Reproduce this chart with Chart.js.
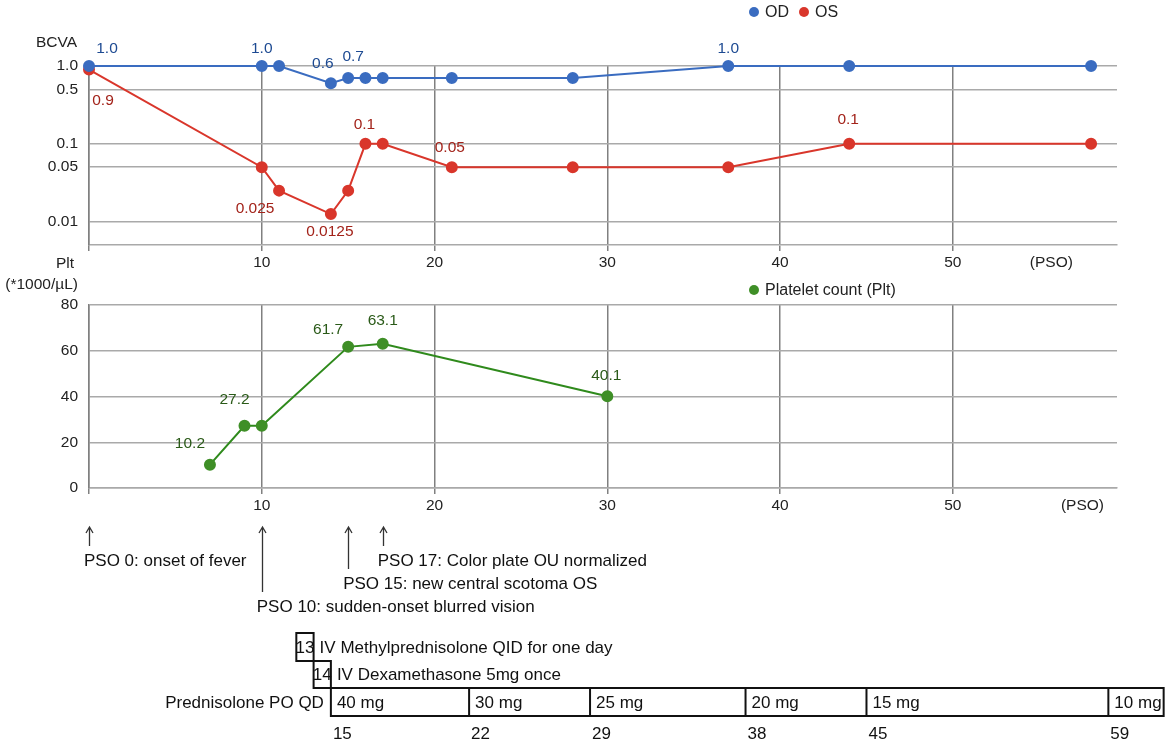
<!DOCTYPE html>
<html>
<head>
<meta charset="utf-8">
<script src="https://cdn.jsdelivr.net/npm/chart.js@4"></script>
<style>
  body { margin: 0; background: #fff; }
  #wrap { position: relative; width: 1170px; height: 745px; }
  #bcvaChart { position: absolute; left: 0; top: 0; }
  #pltChart { position: absolute; left: 0; top: 250px; }
</style>
</head>
<body>
<div id="wrap">
  <canvas id="bcvaChart" width="1170" height="280"></canvas>
  <canvas id="pltChart" width="1170" height="495"></canvas>
</div>
<script>
// BCVA (log scale), days post symptom onset
const bcvaDays = [0, 10, 11, 14, 15, 16, 17, 21, 28, 37, 44, 58];
const odValues = [1.0, 1.0, 1.0, 0.6, 0.7, 0.7, 0.7, 0.7, 0.7, 1.0, 1.0, 1.0];
const osValues = [0.9, 0.05, 0.025, 0.0125, 0.025, 0.1, 0.1, 0.05, 0.05, 0.05, 0.1, 0.1];
const odLabels = ['1.0', '1.0', null, '0.6', '0.7', null, null, null, null, '1.0', null, null];
const osLabels = ['0.9', null, '0.025', '0.0125', null, '0.1', null, '0.05', null, null, '0.1', null];

// platelet count (*1000/uL)
const pltDays = [7, 9, 10, 15, 17, 30];
const pltValues = [10.2, 27.2, 27.2, 61.7, 63.1, 40.1];
const pltLabels = ['10.2', '27.2', null, '61.7', '63.1', '40.1'];

// tick labels
const bcvaTicks = [1, 0.5, 0.1, 0.05, 0.01];
const bcvaTickLabels = ['1.0', '0.5', '0.1', '0.05', '0.01'];
const dayTicks = [0, 10, 20, 30, 40, 50];
const dayTickLabels = ['', '10', '20', '30', '40', '50'];
const pltTicks = [0, 20, 40, 60, 80];

// clinical events
const eventDays = [0, 10, 15, 17];
const eventTexts = [
    'PSO 0: onset of fever',
    'PSO 10: sudden-onset blurred vision',
    'PSO 15: new central scotoma OS',
    'PSO 17: Color plate OU normalized'
];

// treatment
const ivDays = [13, 14];
const ivTexts = ['IV Methylprednisolone QID for one day', 'IV Dexamethasone 5mg once'];
const doseStarts = [14, 22, 29, 38, 45, 59];
const doseEnd = 62.2;
const doseLabels = ['40 mg', '30 mg', '25 mg', '20 mg', '15 mg', '10 mg'];
const doseDayLabels = ['15', '22', '29', '38', '45', '59'];

const FONT = '"Liberation Sans", Arial, sans-serif';
Chart.defaults.font.family = FONT;

const BLUE = '#3a6cc0', RED = '#d9362b', GREEN = '#3f8f27';
const H_GRID = '#a9a9a9', V_GRID = '#808080';

function xy(xs, ys) {
    return xs.map((x, i) => ({ x: x, y: ys[i] }));
}

function dayAxis(psoPos, height) {
    return {
        type: 'linear', min: 0, max: 59.5,
        afterBuildTicks: s => { s.ticks = dayTicks.map(v => ({ value: v })).concat([{ value: psoPos }]); },
        afterFit: s => { s.height = height; },
        ticks: {
            autoSkip: false, maxRotation: 0, padding: 2, color: '#222',
            font: { size: 15.5 },
            callback: (v, i) => i < dayTickLabels.length ? dayTickLabels[i] : '(PSO)'
        },
        grid: {
            color: c => (c.tick && c.tick.value === psoPos) ? 'rgba(0,0,0,0)' : V_GRID,
            lineWidth: 1.5, tickLength: 6
        },
        border: { display: true, color: H_GRID, width: 1.5 }
    };
}

// draws the value next to selected points
const valueLabels = {
    id: 'valueLabels',
    afterDatasetsDraw(chart, args, opts) {
        const ctx = chart.ctx;
        ctx.save();
        ctx.font = '15.5px ' + FONT;
        ctx.textAlign = 'center';
        ctx.textBaseline = 'middle';
        chart.data.datasets.forEach((ds, di) => {
            const meta = chart.getDatasetMeta(di);
            const offs = opts.offsets[di];
            ctx.fillStyle = opts.colors[di];
            ds.pointLabels.forEach((txt, i) => {
                if (!txt) return;
                const p = meta.data[i];
                const o = offs[i] || [0, -18];
                ctx.fillText(txt, p.x + o[0], p.y + o[1]);
            });
        });
        ctx.restore();
    }
};

// legend dots + axis titles
const sideText = {
    id: 'sideText',
    afterDraw(chart, args, opts) {
        const ctx = chart.ctx;
        ctx.save();
        ctx.textBaseline = 'middle';
        ctx.font = '16px ' + FONT;
        opts.legend.forEach((it, i) => {
            const ds = chart.data.datasets[i];
            ctx.fillStyle = ds.pointBackgroundColor;
            ctx.beginPath();
            ctx.arc(it.x, it.y, 5, 0, Math.PI * 2);
            ctx.fill();
            ctx.fillStyle = '#222';
            ctx.textAlign = 'left';
            ctx.fillText(ds.label, it.x + 11, it.y + 1);
        });
        ctx.font = '15.5px ' + FONT;
        opts.titles.forEach(t => {
            ctx.textAlign = t.align;
            ctx.fillStyle = '#222';
            ctx.fillText(t.text, t.x, t.y);
        });
        ctx.restore();
    }
};

// events + treatment schedule under the platelet chart, on its day axis
const schedule = {
    id: 'schedule',
    afterDraw(chart) {
        const ctx = chart.ctx;
        const sx = v => chart.scales.x.getPixelForValue(v);
        const arrowTop = 277;
        const rowY = [311, 334, 357];
        const eventRows = [0, 2, 1, 0];
        ctx.save();
        ctx.font = '17px ' + FONT;
        ctx.textBaseline = 'middle';
        ctx.fillStyle = '#111';
        ctx.strokeStyle = '#333';
        ctx.lineWidth = 1.3;
        eventDays.forEach((d, i) => {
            const x = Math.round(sx(d)) + 0.5;
            const y = rowY[eventRows[i]];
            ctx.beginPath();
            ctx.moveTo(x, y - 15);
            ctx.lineTo(x, arrowTop);
            ctx.moveTo(x - 3.5, arrowTop + 6);
            ctx.lineTo(x, arrowTop);
            ctx.lineTo(x + 3.5, arrowTop + 6);
            ctx.stroke();
            ctx.textAlign = 'left';
            ctx.fillText(eventTexts[i], sx(d) - 5, y);
        });

        ctx.strokeStyle = '#111';
        ctx.lineWidth = 2;
        const ivRows = [[383, 411], [411, 438]];
        ivDays.forEach((d, i) => {
            const x0 = sx(d - 1), x1 = sx(d);
            const [y0, y1] = ivRows[i];
            ctx.strokeRect(x0, y0, x1 - x0, y1 - y0);
            ctx.textAlign = 'center';
            ctx.fillText(String(d), (x0 + x1) / 2, (y0 + y1) / 2 + 1);
            ctx.textAlign = 'left';
            ctx.fillText(ivTexts[i], x1 + 6, (y0 + y1) / 2 + 1);
        });

        const py0 = 438, py1 = 466;
        const bx0 = sx(doseStarts[0]), bx1 = sx(doseEnd);
        ctx.strokeRect(bx0, py0, bx1 - bx0, py1 - py0);
        ctx.textAlign = 'right';
        ctx.fillText('Prednisolone PO QD', bx0 - 7, (py0 + py1) / 2 + 1);
        doseStarts.forEach((d, i) => {
            const x = sx(d);
            if (i > 0) {
                ctx.beginPath();
                ctx.moveTo(x, py0);
                ctx.lineTo(x, py1);
                ctx.stroke();
            }
            ctx.textAlign = 'left';
            ctx.fillText(doseLabels[i], x + 6, (py0 + py1) / 2 + 1);
            ctx.fillText(doseDayLabels[i], x + 2, 484);
        });
        ctx.restore();
    }
};

new Chart(document.getElementById('bcvaChart'), {
    type: 'line',
    data: {
        datasets: [
            {
                label: 'OD', data: xy(bcvaDays, odValues), pointLabels: odLabels,
                borderColor: BLUE, pointBackgroundColor: BLUE, pointBorderColor: BLUE,
                borderWidth: 2, pointRadius: 5, clip: false
            },
            {
                label: 'OS', data: xy(bcvaDays, osValues), pointLabels: osLabels,
                borderColor: RED, pointBackgroundColor: RED, pointBorderColor: RED,
                borderWidth: 2, pointRadius: 5, clip: false
            }
        ]
    },
    options: {
        responsive: false, animation: false,
        layout: { padding: { left: 0, right: 53, top: 66, bottom: 0 } },
        plugins: {
            legend: { display: false }, tooltip: { enabled: false },
            valueLabels: {
                colors: ['#1d4a92', '#a3231a'],
                offsets: [
                    { 0: [18, -17], 1: [0, -17], 3: [-8, -20], 4: [5, -21], 9: [0, -17] },
                    { 0: [14, 31], 2: [-24, 18], 3: [-1, 18], 5: [-1, -19], 7: [-2, -19], 10: [-1, -24] }
                ]
            },
            sideText: {
                legend: [{ x: 754, y: 12 }, { x: 804, y: 12 }],
                titles: [{ text: 'BCVA', x: 36, y: 43, align: 'left' }]
            }
        },
        scales: {
            x: dayAxis(55.7, 35),
            y: {
                type: 'logarithmic', min: 0.005, max: 1,
                afterBuildTicks: s => { s.ticks = bcvaTicks.map(v => ({ value: v })); },
                afterFit: s => { s.width = 89; },
                ticks: {
                    autoSkip: false, padding: 11, color: '#222', font: { size: 15.5 },
                    callback: (v, i) => bcvaTickLabels[i]
                },
                grid: { color: H_GRID, lineWidth: 1.5, drawTicks: false },
                border: { display: true, color: V_GRID, width: 1.5 }
            }
        }
    },
    plugins: [valueLabels, sideText]
});

new Chart(document.getElementById('pltChart'), {
    type: 'line',
    data: {
        datasets: [
            {
                label: 'Platelet count (Plt)', data: xy(pltDays, pltValues), pointLabels: pltLabels,
                borderColor: '#2f8a1c', pointBackgroundColor: GREEN, pointBorderColor: GREEN,
                borderWidth: 2, pointRadius: 5, clip: false
            }
        ]
    },
    options: {
        responsive: false, animation: false,
        layout: { padding: { left: 0, right: 53, top: 55, bottom: 0 } },
        plugins: {
            legend: { display: false }, tooltip: { enabled: false },
            valueLabels: {
                colors: ['#2a5a18'],
                offsets: [{ 0: [-20, -21], 1: [-10, -26], 3: [-20, -17], 4: [0, -23], 5: [-1, -21] }]
            },
            sideText: {
                legend: [{ x: 754, y: 40 }],
                titles: [
                    { text: 'Plt', x: 74, y: 14, align: 'right' },
                    { text: '(*1000/\u00b5L)', x: 78, y: 35, align: 'right' }
                ]
            }
        },
        scales: {
            x: dayAxis(57.5, 257),
            y: {
                type: 'linear', min: 0, max: 80,
                afterBuildTicks: s => { s.ticks = pltTicks.map(v => ({ value: v })); },
                afterFit: s => { s.width = 89; },
                ticks: { padding: 11, color: '#222', font: { size: 15.5 } },
                grid: { color: H_GRID, lineWidth: 1.5, drawTicks: false },
                border: { display: true, color: V_GRID, width: 1.5 }
            }
        }
    },
    plugins: [valueLabels, sideText, schedule]
});
</script>
</body>
</html>
